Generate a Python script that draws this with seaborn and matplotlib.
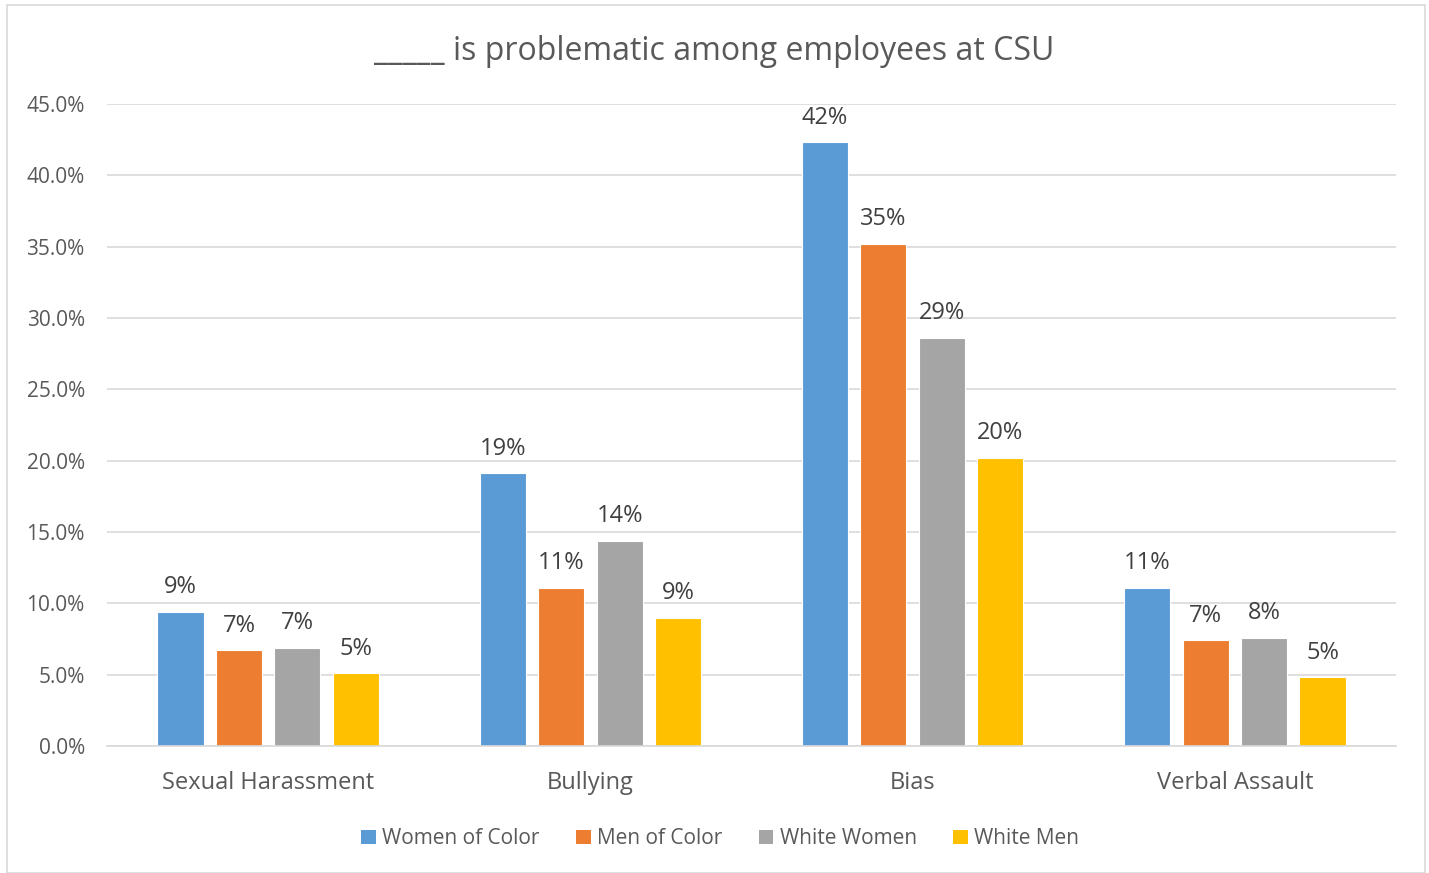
import matplotlib
matplotlib.use("Agg")
import matplotlib.pyplot as plt
import seaborn as sns
import pandas as pd
from matplotlib.patches import Rectangle, Patch
from matplotlib.ticker import FuncFormatter

categories = ["Sexual Harassment", "Bullying", "Bias", "Verbal Assault"]
groups = ["Women of Color", "Men of Color", "White Women", "White Men"]
women_of_color = [9.4, 19.1, 42.3, 11.1]
men_of_color = [6.7, 11.1, 35.2, 7.4]
white_women = [6.9, 14.4, 28.6, 7.6]
white_men = [5.1, 9.0, 20.2, 4.8]
colors = ["#5B9BD5", "#ED7D31", "#A5A5A5", "#FFC000"]
title = "_____ is problematic among employees at CSU"

series = [women_of_color, men_of_color, white_women, white_men]
rows = []
for g, vals in zip(groups, series):
    for c, v in zip(categories, vals):
        rows.append({"Category": c, "Group": g, "Value": v})
df = pd.DataFrame(rows)

sns.set_theme(style="white")
plt.rcParams["font.family"] = ["Open Sans", "DejaVu Sans"]

fig = plt.figure(figsize=(14.29, 8.73), dpi=100)
ax = fig.add_axes([0.0749, 0.1455, 0.902, 0.7354])

sns.barplot(data=df, x="Category", y="Value", hue="Group", order=categories,
            hue_order=groups, palette=colors, width=0.726, gap=0.21,
            saturation=1, ax=ax, legend=False, edgecolor="white", linewidth=0.8)

ax.set_ylim(0, 45)
ax.set_yticks(range(0, 50, 5))
ax.yaxis.set_major_formatter(FuncFormatter(lambda v, p: f"{v:.1f}%"))
ax.set_xlim(-0.5, 3.5)
ax.grid(axis="y", color="#D9D9D9", linewidth=1.2)
ax.set_axisbelow(True)
for s in ["top", "right", "left"]:
    ax.spines[s].set_visible(False)
ax.spines["bottom"].set_color("#D9D9D9")
ax.spines["bottom"].set_linewidth(1.2)
ax.set_xlabel("")
ax.set_ylabel("")
ax.tick_params(axis="y", labelsize=15, colors="#595959", length=0, pad=16)
ax.tick_params(axis="x", labelsize=17, colors="#595959", length=0, pad=18)

for cont in ax.containers:
    labels = [f"{round(b.get_height() + 1e-9):.0f}%" for b in cont]
    ax.bar_label(cont, labels=labels, padding=9, fontsize=17, color="#404040")

fig.text(0.5, 0.941, title, ha="center", va="center", fontsize=23, color="#595959")

handles = [Patch(facecolor=c, edgecolor="none") for c in colors]
fig.legend(handles, groups, loc="center", bbox_to_anchor=(0.504, 0.039), ncol=4,
           frameon=False, fontsize=15, labelcolor="#595959", handlelength=0.7,
           handleheight=0.7, handletextpad=0.3, columnspacing=1.75)

fig.patches.append(Rectangle((7 / 1429, 0.0), 1418 / 1429, 1 - 5 / 873,
                             transform=fig.transFigure, fill=False,
                             edgecolor="#D9D9D9", linewidth=1.2))

fig.savefig("out.png", dpi=100)
